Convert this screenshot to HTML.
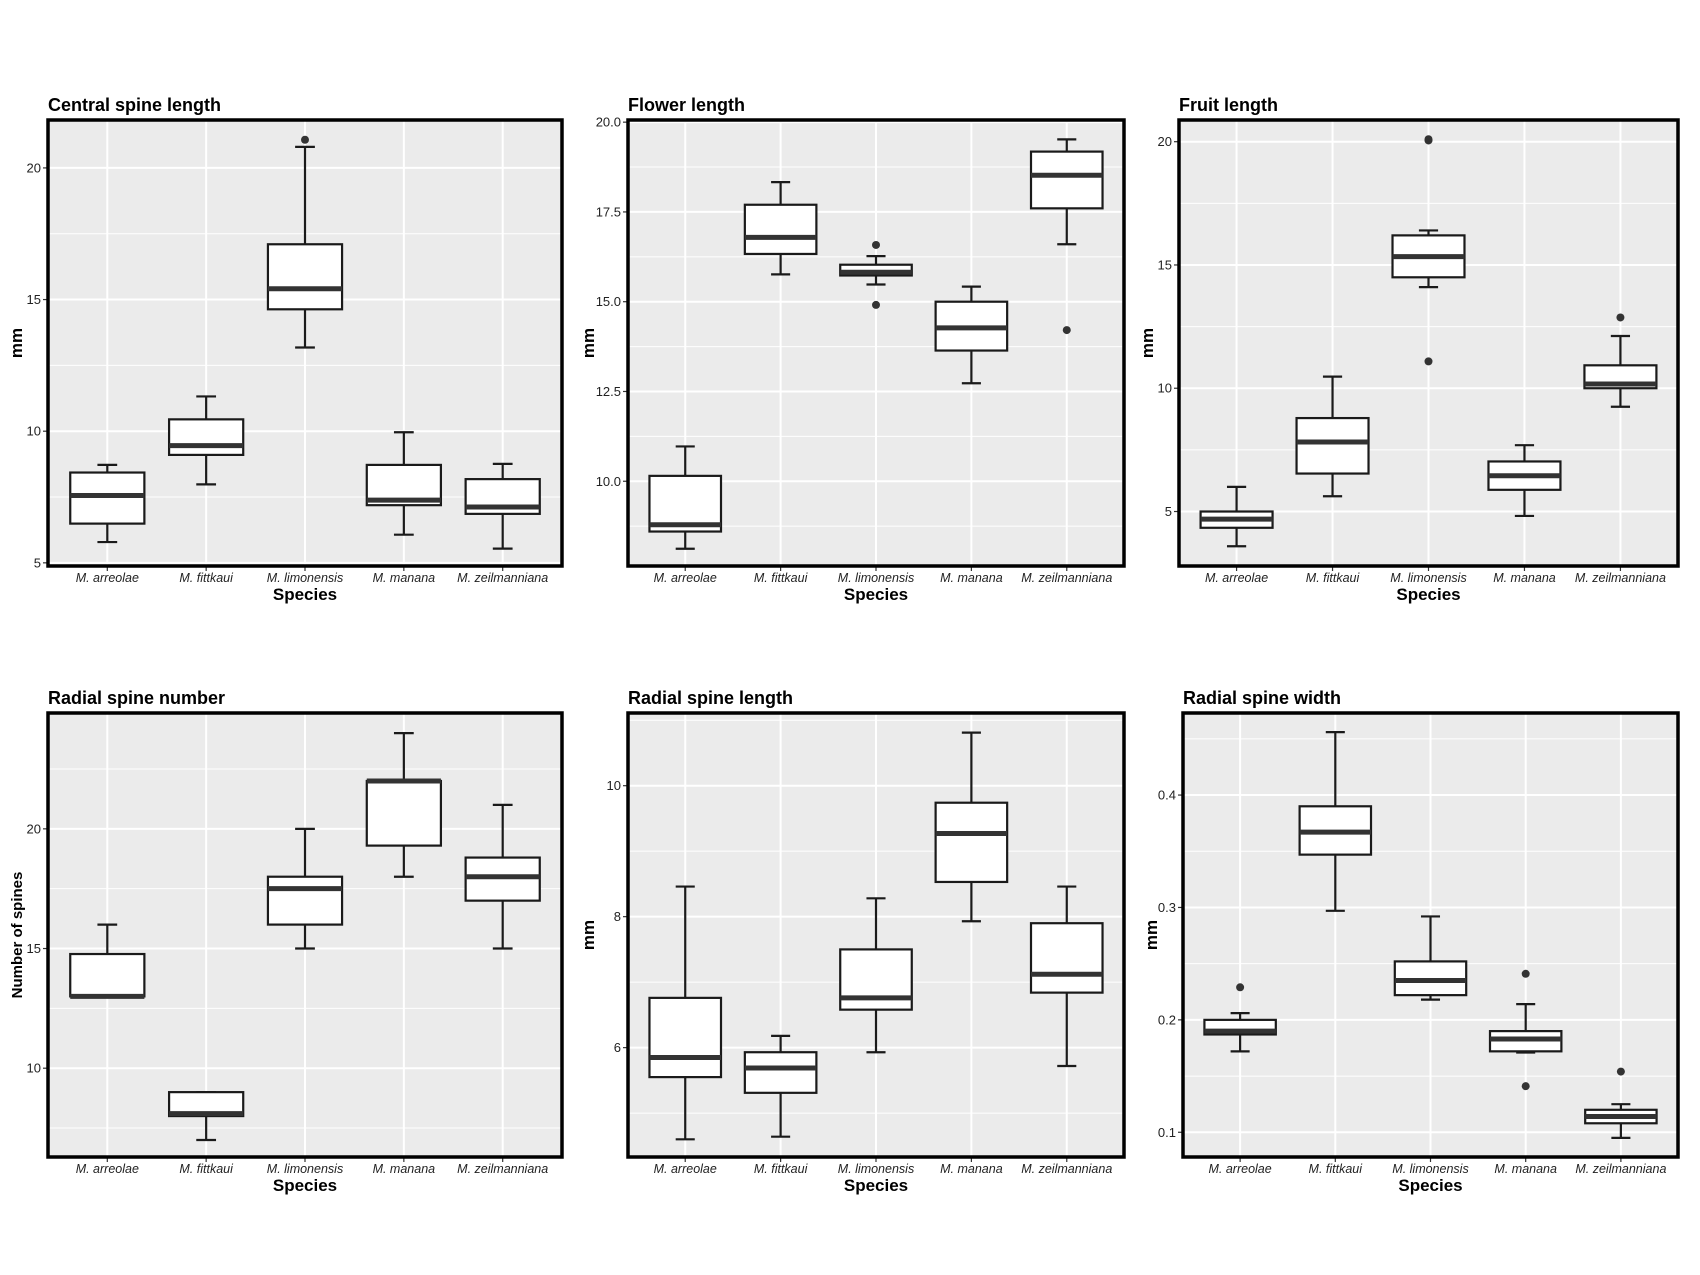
<!DOCTYPE html>
<html><head><meta charset="utf-8"><style>
html,body{margin:0;padding:0;background:#fff}
svg{display:block}
text{font-family:"Liberation Sans",Arial,sans-serif}
</style></head><body>
<svg id="fig" width="1700" height="1275" viewBox="0 0 1700 1275" xmlns="http://www.w3.org/2000/svg"></svg>
<script>
const categories = ["M. arreolae","M. fittkaui","M. limonensis","M. manana","M. zeilmanniana"];

const centralLow = [5.79, 7.98, 13.18, 6.07, 5.54];
const centralQ1 = [6.49, 9.1, 14.63, 7.19, 6.86];
const centralMed = [7.56, 9.45, 15.41, 7.38, 7.12];
const centralQ3 = [8.43, 10.45, 17.1, 8.72, 8.18];
const centralHigh = [8.72, 11.32, 20.8, 9.96, 8.76];
const centralOut = [[], [], [21.07], [], []];
const centralTicks = [5, 10, 15, 20];

const flowerLow = [8.12, 15.76, 15.48, 12.73, 16.6];
const flowerQ1 = [8.6, 16.33, 15.73, 13.64, 17.6];
const flowerMed = [8.79, 16.79, 15.82, 14.27, 18.52];
const flowerQ3 = [10.15, 17.7, 16.03, 15.0, 19.18];
const flowerHigh = [10.97, 18.33, 16.27, 15.42, 19.52];
const flowerOut = [[], [], [16.58, 14.91], [], [14.21]];
const flowerTicks = [10.0, 12.5, 15.0, 17.5, 20.0];

const fruitLow = [3.59, 5.62, 14.1, 4.82, 9.25];
const fruitQ1 = [4.34, 6.54, 14.5, 5.88, 10.0];
const fruitMed = [4.69, 7.82, 15.34, 6.45, 10.17];
const fruitQ3 = [5.0, 8.79, 16.2, 7.03, 10.93];
const fruitHigh = [6.0, 10.47, 16.4, 7.69, 12.12];
const fruitOut = [[], [], [20.05, 20.1, 11.09], [], [12.87]];
const fruitTicks = [5, 10, 15, 20];

const rnumLow = [13, 7, 15, 18, 15];
const rnumQ1 = [13, 8, 16, 19.3, 17];
const rnumMed = [13, 8.1, 17.5, 22, 18];
const rnumQ3 = [14.77, 9, 18, 22, 18.8];
const rnumHigh = [16, 9, 20, 24, 21];
const rnumOut = [[], [], [], [], []];
const rnumTicks = [10, 15, 20];

const rlenLow = [4.6, 4.64, 5.93, 7.93, 5.72];
const rlenQ1 = [5.55, 5.31, 6.58, 8.53, 6.84];
const rlenMed = [5.85, 5.69, 6.76, 9.27, 7.12];
const rlenQ3 = [6.76, 5.93, 7.5, 9.74, 7.9];
const rlenHigh = [8.46, 6.18, 8.28, 10.81, 8.46];
const rlenOut = [[], [], [], [], []];
const rlenTicks = [6, 8, 10];

const rwidLow = [0.172, 0.297, 0.218, 0.171, 0.095];
const rwidQ1 = [0.187, 0.347, 0.222, 0.172, 0.108];
const rwidMed = [0.190, 0.367, 0.235, 0.183, 0.114];
const rwidQ3 = [0.2, 0.39, 0.252, 0.19, 0.12];
const rwidHigh = [0.206, 0.456, 0.292, 0.214, 0.125];
const rwidOut = [[0.229], [], [], [0.241, 0.141], [0.154]];
const rwidTicks = [0.1, 0.2, 0.3, 0.4];

const NS = "http://www.w3.org/2000/svg";
const svg = document.getElementById("fig");
function mk(tag, attrs, parent, txt){
  const e = document.createElementNS(NS, tag);
  for (const k in attrs) e.setAttribute(k, attrs[k]);
  if (txt !== undefined) e.textContent = txt;
  (parent || svg).appendChild(e);
  return e;
}

const panels = [
  {key:"central", title:"Central spine length", ylab:"mm", x:48, y:120, w:514, h:446, dom:[4.88,21.82], lo:centralLow,q1:centralQ1,md:centralMed,q3:centralQ3,hi:centralHigh,out:centralOut,ticks:centralTicks,fmt:0, ylx:16},
  {key:"flower", title:"Flower length", ylab:"mm", x:628, y:120, w:496, h:446, dom:[7.64,20.06], lo:flowerLow,q1:flowerQ1,md:flowerMed,q3:flowerQ3,hi:flowerHigh,out:flowerOut,ticks:flowerTicks,fmt:1, ylx:588},
  {key:"fruit", title:"Fruit length", ylab:"mm", x:1179, y:120, w:499, h:446, dom:[2.79,20.88], lo:fruitLow,q1:fruitQ1,md:fruitMed,q3:fruitQ3,hi:fruitHigh,out:fruitOut,ticks:fruitTicks,fmt:0, ylx:1147},
  {key:"radial-number", title:"Radial spine number", ylab:"Number of spines", x:48, y:713, w:514, h:444, dom:[6.29,24.84], lo:rnumLow,q1:rnumQ1,md:rnumMed,q3:rnumQ3,hi:rnumHigh,out:rnumOut,ticks:rnumTicks,fmt:0, ylx:16},
  {key:"radial-length", title:"Radial spine length", ylab:"mm", x:628, y:713, w:496, h:444, dom:[4.33,11.11], lo:rlenLow,q1:rlenQ1,md:rlenMed,q3:rlenQ3,hi:rlenHigh,out:rlenOut,ticks:rlenTicks,fmt:0, ylx:588},
  {key:"radial-width", title:"Radial spine width", ylab:"mm", x:1183, y:713, w:495, h:444, dom:[0.078,0.473], lo:rwidLow,q1:rwidQ1,md:rwidMed,q3:rwidQ3,hi:rwidHigh,out:rwidOut,ticks:rwidTicks,fmt:1, ylx:1151}
];

panels.forEach(p => {
  const g = mk("g", {});
  
  
  const ys = v => p.y + p.h - (v - p.dom[0]) / (p.dom[1] - p.dom[0]) * p.h;
  const xs = i => p.x + (i + 0.6) / 5.2 * p.w;
  const step = p.w / 5.2;
  const bg = mk("rect", {x:p.x, y:p.y, width:p.w, height:p.h, fill:"#ebebeb"}, g);
  
  
  const tstep = p.ticks[1] - p.ticks[0];
  for (let v = p.ticks[0] - tstep/2; v < p.dom[1]; v += tstep) {
    if (v <= p.dom[0]) continue;
    const yy = ys(v);
    const l = mk("line", {x1:p.x, x2:p.x+p.w, y1:yy, y2:yy, stroke:"#fff", "stroke-width":1}, g);
    
    
  }
  p.ticks.forEach(t => {
    const yy = ys(t);
    const l = mk("line", {x1:p.x, x2:p.x+p.w, y1:yy, y2:yy, stroke:"#fff", "stroke-width":2}, g);
    
    
    const tk = mk("line", {x1:p.x-5, x2:p.x, y1:yy, y2:yy, stroke:"#333", "stroke-width":1.2}, g);
    
    
    const tl = mk("text", {x:p.x-7, y:yy+4.5, "text-anchor":"end", "font-size":13, fill:"#222"}, g, t.toFixed(p.fmt));
    
    
  });
  categories.forEach((c, i) => {
    const xx = xs(i);
    const l = mk("line", {x1:xx, x2:xx, y1:p.y, y2:p.y+p.h, stroke:"#fff", "stroke-width":2}, g);
    
    
    const tk = mk("line", {x1:xx, x2:xx, y1:p.y+p.h, y2:p.y+p.h+5, stroke:"#333", "stroke-width":1.2}, g);
    
    
    const tl = mk("text", {x:xx, y:p.y+p.h+16, "text-anchor":"middle", "font-size":12.5, "font-style":"italic", fill:"#222"}, g, c);
    
    
  });
  categories.forEach((c, i) => {
    const xx = xs(i), bw = step*0.75, cw = step*0.2;
    const bg2 = mk("g", {}, g);
    
    
    const st = {stroke:"#1a1a1a", "stroke-width":2.2};
    mk("line", Object.assign({x1:xx, x2:xx, y1:ys(p.hi[i]), y2:ys(p.q3[i])}, st), bg2);
    mk("line", Object.assign({x1:xx, x2:xx, y1:ys(p.q1[i]), y2:ys(p.lo[i])}, st), bg2);
    mk("line", Object.assign({x1:xx-cw/2, x2:xx+cw/2, y1:ys(p.hi[i]), y2:ys(p.hi[i])}, st), bg2);
    mk("line", Object.assign({x1:xx-cw/2, x2:xx+cw/2, y1:ys(p.lo[i]), y2:ys(p.lo[i])}, st), bg2);
    mk("rect", Object.assign({x:xx-bw/2, y:ys(p.q3[i]), width:bw, height:Math.max(0.5, ys(p.q1[i])-ys(p.q3[i])), fill:"#fff"}, st), bg2);
    mk("line", {x1:xx-bw/2, x2:xx+bw/2, y1:ys(p.md[i]), y2:ys(p.md[i]), stroke:"#333", "stroke-width":5}, bg2);
    p.out[i].forEach(o => {
      const d = mk("circle", {cx:xx, cy:ys(o), r:4, fill:"#333"}, bg2);
      
      
    });
  });
  const bd = mk("rect", {x:p.x, y:p.y, width:p.w, height:p.h, fill:"none", stroke:"#000", "stroke-width":3.5}, g);
  
  
  const tt = mk("text", {x:p.x, y:p.y-9, "font-size":18, "font-weight":"bold", fill:"#000"}, g, p.title);
  
  
  const xl = mk("text", {x:p.x+p.w/2, y:p.y+p.h+34, "text-anchor":"middle", "font-size":17, "font-weight":"bold", fill:"#000"}, g, "Species");
  
  
  const cy = p.y + p.h/2;
  const yl = mk("text", {x:p.ylx, y:cy, "text-anchor":"middle", "font-size":p.ylab.length > 3 ? 15 : 17, "font-weight":"bold", fill:"#000", transform:"rotate(-90 "+p.ylx+" "+cy+") translate(0 6)"}, g, p.ylab);
  
  
});
</script>
</body></html>
